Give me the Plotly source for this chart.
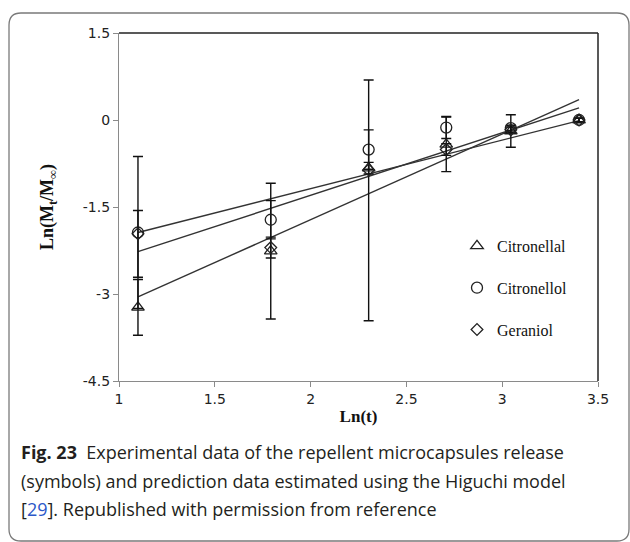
import plotly.graph_objects as go

# ln(t) for t = 3, 6, 10, 15, 21, 30
ln_t = [1.099, 1.792, 2.303, 2.708, 3.045, 3.401]

citronellal = [-3.23, -2.26, -0.83, -0.42, -0.19, 0.00]
citronellal_err = [0.48, 1.17, 0.10, 0.47, 0.28, 0.03]

citronellol = [-1.94, -1.72, -0.51, -0.13, -0.14, 0.00]
citronellol_err = [1.31, 0.33, 0.34, 0.19, 0.05, 0.03]

geraniol = [-1.96, -2.20, -0.86, -0.51, -0.17, 0.00]
geraniol_err_plus = [0.40, 0.18, 1.55, 0.10, 0.05, 0.03]
geraniol_err_minus = [0.75, 0.18, 2.60, 0.10, 0.05, 0.03]

# Higuchi model predictions (straight lines in ln-ln space)
fit_x = [1.099, 3.401]
citronellal_fit = [-3.05, 0.35]
citronellol_fit = [-1.94, -0.01]
geraniol_fit = [-2.27, 0.21]

x_ticks = [1, 1.5, 2, 2.5, 3, 3.5]
y_ticks = [1.5, 0, -1.5, -3, -4.5]

W, H = 630, 542
L, R, T, B = 119, 32, 33, 161
PW, PH = W - L - R, H - T - B


def px(x):
    return (x - L) / PW


def py(y):
    return (H - B - y) / PH


fig = go.Figure()

line_style = dict(color="#333333", width=1.4)
for fy in (citronellol_fit, geraniol_fit, citronellal_fit):
    fig.add_trace(go.Scatter(x=fit_x, y=fy, mode="lines", line=line_style,
                             showlegend=False, hoverinfo="skip"))

series = [
    ("Citronellal", citronellal, dict(type="data", array=citronellal_err), "triangle-up-open", 11),
    ("Citronellol", citronellol, dict(type="data", array=citronellol_err), "circle-open", 11),
    ("Geraniol", geraniol, dict(type="data", array=geraniol_err_plus,
                                arrayminus=geraniol_err_minus, symmetric=False), "diamond-open", 9),
]
for i, (name, ys, err, sym, size) in enumerate(series):
    err.update(color="#111111", thickness=1.4, width=5, visible=True)
    fig.add_trace(go.Scatter(
        x=ln_t, y=ys, mode="markers", name=name, legendgroup=name,
        marker=dict(symbol=sym, size=size, color="#222222", line=dict(color="#222222", width=1.3)),
        error_y=err,
    ))

axis_common = dict(showgrid=False, zeroline=False, showline=True, linecolor="#8a8a8a",
                   linewidth=1.3, ticks="outside", ticklen=5, tickcolor="#8a8a8a",
                   tickfont=dict(family="DejaVu Sans", size=14, color="#222222"))

fig.update_xaxes(range=[1, 3.5], tickvals=x_ticks, ticktext=[str(v) for v in x_ticks],
                 title=dict(text="<b>Ln(t)</b>", font=dict(family="Liberation Serif", size=17, color="#111111"),
                            standoff=4),
                 **axis_common)
fig.update_yaxes(range=[-4.5, 1.5], tickvals=y_ticks, ticktext=["1.5", "0", "-1.5", "-3", "-4.5"],
                 title=dict(text="<b>Ln(M<sub>t</sub>/M<sub>∞</sub>)</b>",
                            font=dict(family="Liberation Serif", size=18, color="#111111"), standoff=24),
                 **axis_common)

shapes = [
    # plot-area frame on top and right
    dict(type="line", xref="paper", yref="paper", x0=0, x1=1, y0=1, y1=1, line=dict(color="#222222", width=1.5)),
    dict(type="line", xref="paper", yref="paper", x0=1, x1=1, y0=0, y1=1, line=dict(color="#222222", width=1.5)),
]
# rounded figure border
x0, x1, y0, y1, r = 9, 629, 13, 541, 12
path = (f"M {px(x0)},{py(y1 - r)} L {px(x0)},{py(y0 + r)} Q {px(x0)},{py(y0)} {px(x0 + r)},{py(y0)} "
        f"L {px(x1 - r)},{py(y0)} Q {px(x1)},{py(y0)} {px(x1)},{py(y0 + r)} "
        f"L {px(x1)},{py(y1 - r)} Q {px(x1)},{py(y1)} {px(x1 - r)},{py(y1)} "
        f"L {px(x0 + r)},{py(y1)} Q {px(x0)},{py(y1)} {px(x0)},{py(y1 - r)}")
shapes.append(dict(type="path", xref="paper", yref="paper", path=path,
                   line=dict(color="#7a7a7a", width=1.3), layer="below"))

caption = [
    "<b>Fig. 23</b>  Experimental data of the repellent microcapsules release",
    "(symbols) and prediction data estimated using the Higuchi model",
    "[<span style='color:#2b57c8'>29</span>]. Republished with permission from reference",
]
annotations = []
for k, line in enumerate(caption):
    annotations.append(dict(text=line, xref="paper", yref="paper", x=px(19), y=py(452 + 28.5 * k),
                            xanchor="left", yanchor="middle", showarrow=False,
                            font=dict(family="Open Sans", size=18, color="#231f20")))

fig.update_layout(
    width=W, height=H, margin=dict(l=L, r=R, t=T, b=B),
    paper_bgcolor="white", plot_bgcolor="white",
    shapes=shapes, annotations=annotations,
    legend=dict(x=px(457), y=py(229), xanchor="left", yanchor="top", bgcolor="rgba(0,0,0,0)",
                font=dict(family="Liberation Serif", size=16, color="#111111"),
                tracegroupgap=18, itemwidth=30),
)

fig.write_html("out.html")
